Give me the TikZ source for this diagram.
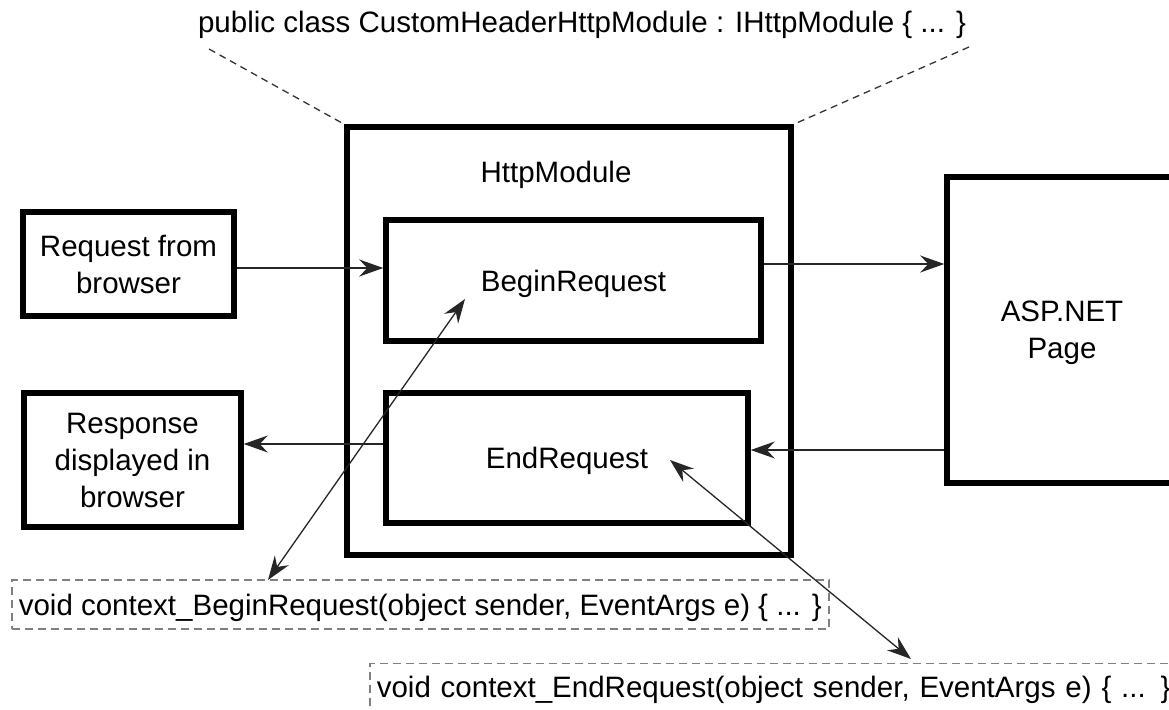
\documentclass[tikz,border=0pt]{standalone}
\usepackage{fontspec}
\setmainfont{Liberation Sans}
\usetikzlibrary{arrows.meta}
\begin{document}
\begin{tikzpicture}[x=1pt,y=-1pt,
  font=\fontsize{29.5}{37}\selectfont,
  box/.style={draw=black, line width=5.5pt, inner sep=0pt, align=center, text depth=0pt},
  code/.style={draw=black!50, dash pattern=on 8pt off 5pt, line width=1.6pt,
    inner xsep=7pt, inner ysep=0pt, text depth=0pt, anchor=west},
  tip/.tip={Stealth[length=24pt,width=17pt,inset=8pt]},
  flow/.style={line width=1.3pt, draw=black!85, -tip},
  link/.style={line width=1.3pt, draw=black!85, tip-tip},
  guide/.style={line width=1.3pt, draw=black!80, dash pattern=on 7pt off 5pt}]

\useasboundingbox (0,0) rectangle (1169,709);
\clip (0,0) rectangle (1169,709);

% class declaration and the module container
\node[anchor=base] (title) at (582,33) {public class CustomHeaderHttpModule : IHttpModule \{ ... \}};
\node[box, minimum width=444pt, minimum height=428pt] (outer) at (569,341) {};
\node[anchor=base] (modlabel) at (556,182) {HttpModule};

% events inside the module
\node[box, minimum width=375pt, minimum height=121pt] (begin) at (573.5,280.5) {BeginRequest};
\node[box, minimum width=362pt, minimum height=130pt] (end) at (567,458) {EndRequest};

% browser side and page
\node[box, minimum width=211pt, minimum height=104pt] (req) at (128.5,264) {Request from\\browser};
\node[box, minimum width=217pt, minimum height=134pt] (resp) at (132.5,460) {Response\\displayed in\\browser};
\node[box, minimum width=230pt, minimum height=306pt] (asp) at (1062,330) {ASP.NET\\Page};

% event handlers
\node[code, minimum height=49pt] (bcode) at (11,604.5) {void context\_BeginRequest(object sender, EventArgs e) \{ ... \}};
\node[code, minimum height=47pt, text width=810pt, align=left] (ecode) at (369,687) {void context\_EndRequest(object sender, EventArgs e) \{ ... \}};

% request / response flow
\draw[flow] ([yshift=-4pt]req.east) -- ([yshift=12.5pt]begin.west);
\draw[flow] ([yshift=16.5pt]begin.east) -- ([yshift=66pt]asp.west);
\draw[flow] ([yshift=-120pt]asp.west) -- ([yshift=8pt]end.east);
\draw[flow] ([yshift=14pt]end.west) -- ([yshift=16pt]resp.east);

% links between events and their handlers
\coordinate (bhook) at (465,299);
\coordinate (btip) at (268,580);
\coordinate (ehook) at (670,460);
\coordinate (etip) at (911,659);
\draw[link] (btip) -- (bhook);
\draw[link] (ehook) -- (etip);

% callout lines from the class declaration
\coordinate (gl) at (209,49);
\coordinate (gr) at (969,47);
\draw[guide] (gl) -- (outer.north west);
\draw[guide] (gr) -- (outer.north east);
\end{tikzpicture}
\end{document}
